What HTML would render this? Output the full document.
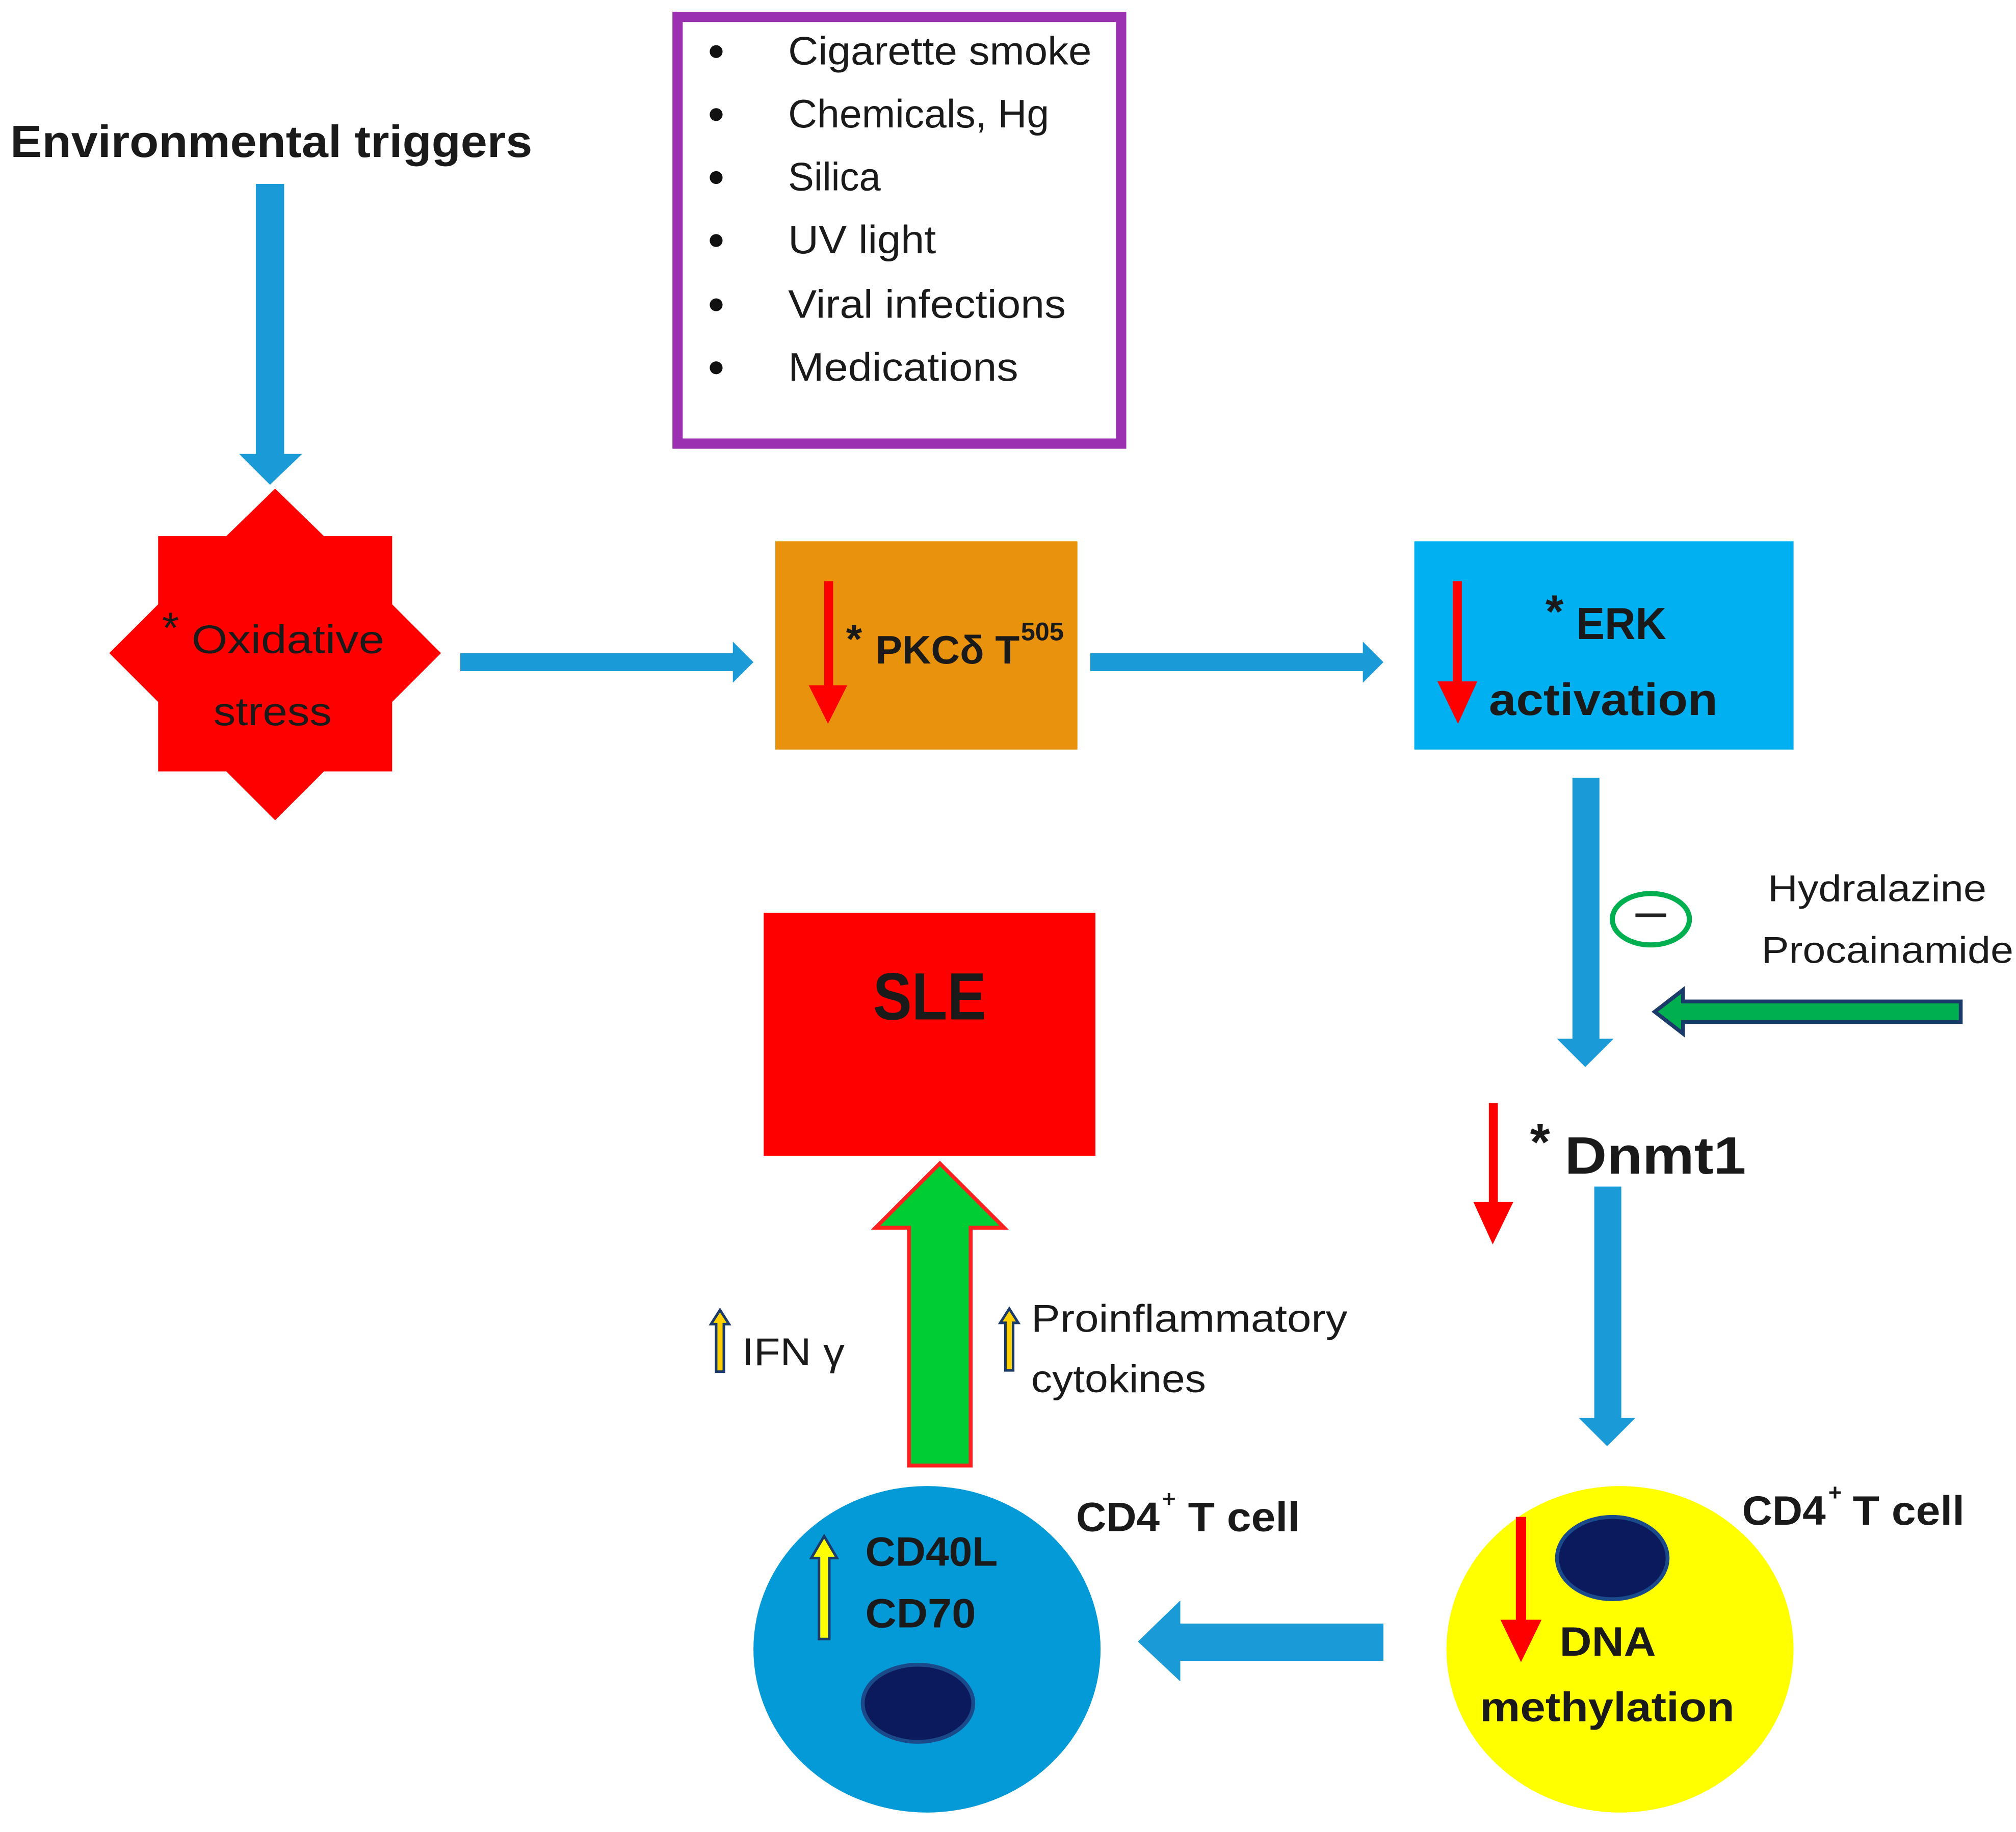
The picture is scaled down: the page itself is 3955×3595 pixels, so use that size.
<!DOCTYPE html>
<html><head><meta charset="utf-8"><style>
html,body{margin:0;padding:0;background:#fff;}
svg{display:block;}
text{font-family:"Liberation Sans",sans-serif;fill:#1a1a1a;}
.b{font-weight:bold;}
</style></head><body>
<svg width="3955" height="3595" viewBox="0 0 1568 1425" xmlns="http://www.w3.org/2000/svg">
<rect width="1568" height="1425" fill="#fff"/>
<defs>
<marker id="u" markerWidth="1" markerHeight="1"></marker>
</defs>
<text x="8" y="122" font-size="35" class="b" textLength="406" lengthAdjust="spacingAndGlyphs">Environmental triggers</text>
<!-- down arrow env -->
<polygon points="199,143 221,143 221,353 235,353 210,377 186,353 199,353" fill="#1a9ad6"/>
<!-- purple box -->
<rect x="527" y="13" width="345" height="332" fill="#fff" stroke="#9b30b0" stroke-width="8"/>
<g font-size="31">
<circle cx="557" cy="40" r="5" fill="#111"/><text x="613" y="50" textLength="236" lengthAdjust="spacingAndGlyphs">Cigarette smoke</text>
<circle cx="557" cy="89" r="5" fill="#111"/><text x="613" y="99" textLength="203" lengthAdjust="spacingAndGlyphs">Chemicals, Hg</text>
<circle cx="557" cy="138" r="5" fill="#111"/><text x="613" y="148" textLength="72" lengthAdjust="spacingAndGlyphs">Silica</text>
<circle cx="557" cy="187" r="5" fill="#111"/><text x="613" y="197" textLength="115" lengthAdjust="spacingAndGlyphs">UV light</text>
<circle cx="557" cy="237" r="5" fill="#111"/><text x="613" y="247" textLength="216" lengthAdjust="spacingAndGlyphs">Viral infections</text>
<circle cx="557" cy="286" r="5" fill="#111"/><text x="613" y="296" textLength="179" lengthAdjust="spacingAndGlyphs">Medications</text>
</g>
<!-- star -->
<polygon points="214,380 252,417 305,417 305,470 343,508 305,546 305,600 252,600 214,638 176,600 123,600 123,546 85,508 123,470 123,417 176,417" fill="#ff0000"/>
<text x="126" y="500" font-size="34">*</text>
<text x="149" y="508" font-size="31" textLength="150" lengthAdjust="spacingAndGlyphs">Oxidative</text>
<text x="212" y="564" font-size="31" text-anchor="middle" textLength="92" lengthAdjust="spacingAndGlyphs">stress</text>
<!-- arrow 1 -->
<polygon points="358,508 570,508 570,499 586,515 570,531 570,522 358,522" fill="#1a9ad6"/>
<!-- orange box -->
<rect x="603" y="421" width="235" height="162" fill="#e8920e"/>
<polygon points="641,452 648,452 648,533 659,533 644,563 629,533 641,533" fill="#ff0000"/>
<text x="658" y="508" font-size="32" class="b">*</text>
<text x="681" y="516" font-size="31" class="b" textLength="112" lengthAdjust="spacingAndGlyphs">PKCδ T</text>
<text x="794" y="498" font-size="20" class="b">505</text>
<!-- arrow 2 -->
<polygon points="848,508 1060,508 1060,499 1076,515 1060,531 1060,522 848,522" fill="#1a9ad6"/>
<!-- blue box -->
<rect x="1100" y="421" width="295" height="162" fill="#00b0f0"/>
<polygon points="1130,452 1137,452 1137,530 1149,530 1134,563 1118,530 1130,530" fill="#ff0000"/>
<text x="1202" y="488" font-size="36" class="b">*</text>
<text x="1226" y="497" font-size="35" class="b" textLength="70" lengthAdjust="spacingAndGlyphs">ERK</text>
<text x="1158" y="556" font-size="35" class="b" textLength="178" lengthAdjust="spacingAndGlyphs">activation</text>
<!-- down arrow from ERK -->
<polygon points="1223,605 1244,605 1244,808 1255,808 1233,830 1211,808 1223,808" fill="#1a9ad6"/>
<ellipse cx="1284" cy="715" rx="30" ry="20" fill="none" stroke="#00b050" stroke-width="4"/>
<line x1="1272" y1="712" x2="1296" y2="712" stroke="#222" stroke-width="3"/>
<text x="1375" y="701" font-size="29" textLength="170" lengthAdjust="spacingAndGlyphs">Hydralazine</text>
<text x="1370" y="749" font-size="29" textLength="196" lengthAdjust="spacingAndGlyphs">Procainamide</text>
<polygon points="1525,779 1309,779 1309,770 1287,787 1309,804 1309,795 1525,795" fill="#00b050" stroke="#1a3a6a" stroke-width="3"/>
<!-- Dnmt1 -->
<polygon points="1158,858 1165,858 1165,935 1177,935 1161,968 1146,935 1158,935" fill="#ff0000"/>
<text x="1190" y="902" font-size="40" class="b">*</text>
<text x="1217" y="913" font-size="41" class="b" textLength="141" lengthAdjust="spacingAndGlyphs">Dnmt1</text>
<polygon points="1240,923 1261,923 1261,1103 1272,1103 1250,1125 1228,1103 1240,1103" fill="#1a9ad6"/>
<!-- SLE -->
<rect x="594" y="710" width="258" height="189" fill="#ff0000"/>
<text x="723" y="793" font-size="52" class="b" text-anchor="middle" textLength="88" lengthAdjust="spacingAndGlyphs">SLE</text>
<polygon points="707,1140 755,1140 755,955 781,955 731,905 681,955 707,955" fill="#00cc33" stroke="#ff2020" stroke-width="3"/>
<!-- small arrows -->
<polygon points="557,1067 563,1067 563,1030 567,1030 560,1019 553,1030 557,1030" fill="#ffd000" stroke="#1a3a6a" stroke-width="2"/>
<text x="577" y="1062" font-size="30" textLength="80" lengthAdjust="spacingAndGlyphs">IFN γ</text>
<polygon points="782,1066 788,1066 788,1029 792,1029 785,1018 778,1029 782,1029" fill="#ffd000" stroke="#1a3a6a" stroke-width="2"/>
<text x="802" y="1036" font-size="30" textLength="246" lengthAdjust="spacingAndGlyphs">Proinflammatory</text>
<text x="802" y="1083" font-size="30" textLength="136" lengthAdjust="spacingAndGlyphs">cytokines</text>
<!-- blue cell -->
<ellipse cx="721" cy="1283" rx="135" ry="127" fill="#049ad8"/>
<ellipse cx="714" cy="1325" rx="43" ry="30" fill="#0a1a5c" stroke="#1a4a8a" stroke-width="3"/>
<polygon points="637,1275 645,1275 645,1212 651,1212 641,1195 631,1212 637,1212" fill="#ffff00" stroke="#1a3a6a" stroke-width="2"/>
<text x="673" y="1218" font-size="32" class="b" textLength="103" lengthAdjust="spacingAndGlyphs">CD40L</text>
<text x="673" y="1266" font-size="32" class="b" textLength="86" lengthAdjust="spacingAndGlyphs">CD70</text>
<text x="837" y="1191" font-size="32" class="b" textLength="65" lengthAdjust="spacingAndGlyphs">CD4</text>
<text x="904" y="1172" font-size="18" class="b">+</text>
<text x="924" y="1191" font-size="32" class="b" textLength="87" lengthAdjust="spacingAndGlyphs">T cell</text>
<polygon points="1076,1263 918,1263 918,1245 885,1277 918,1308 918,1292 1076,1292" fill="#1a9ad6"/>
<!-- yellow cell -->
<ellipse cx="1260" cy="1283" rx="135" ry="127" fill="#ffff00"/>
<ellipse cx="1254" cy="1212" rx="43" ry="32" fill="#0a1a5c" stroke="#1a4a8a" stroke-width="3"/>
<polygon points="1179,1180 1187,1180 1187,1260 1199,1260 1183,1293 1167,1260 1179,1260" fill="#ff0000"/>
<text x="1213" y="1288" font-size="32" class="b" textLength="75" lengthAdjust="spacingAndGlyphs">DNA</text>
<text x="1250" y="1339" font-size="32" class="b" text-anchor="middle" textLength="198" lengthAdjust="spacingAndGlyphs">methylation</text>
<text x="1355" y="1186" font-size="32" class="b" textLength="65" lengthAdjust="spacingAndGlyphs">CD4</text>
<text x="1422" y="1167" font-size="18" class="b">+</text>
<text x="1441" y="1186" font-size="32" class="b" textLength="87" lengthAdjust="spacingAndGlyphs">T cell</text>
</svg>
</body></html>
